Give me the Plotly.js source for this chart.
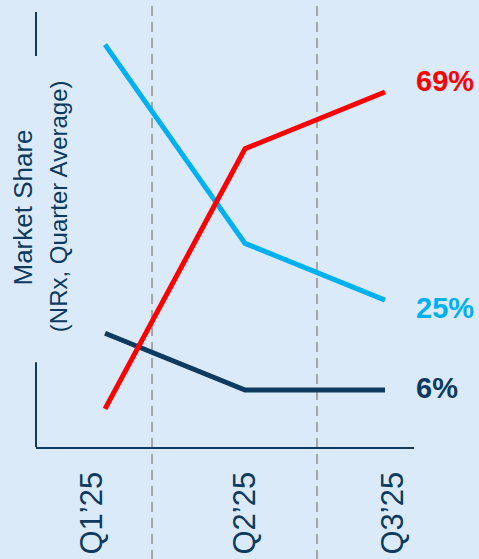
<!DOCTYPE html>
<html>
<head>
<meta charset="utf-8">
<script src="https://cdn.plot.ly/plotly-3.0.1.min.js"></script>
<style>html,body{margin:0;padding:0;background:#DAEAF8;}</style>
</head>
<body>
<div id="chart" style="width:479px;height:559px;"></div>
<script>
const quarters = ["Q1’25", "Q2’25", "Q3’25"];
const xPos = [0, 1, 2];
const redShare = [2, 57, 69];
const blueShare = [79, 37, 25];
const navyShare = [18, 6, 6];
const endLabels = ["69%", "25%", "6%"];
const dividers = [0.336, 1.514];

const BG = "#DAEAF8";
const NAVY = "#0D3A5E";
const RED = "#FF0000";
const BLUE = "#00B0F0";
const FONT = "Liberation Sans, Arial, sans-serif";

const traces = [
  {x: xPos, y: blueShare, mode: "lines", line: {color: BLUE, width: 5}, hoverinfo: "skip"},
  {x: xPos, y: navyShare, mode: "lines", line: {color: NAVY, width: 5}, hoverinfo: "skip"},
  {x: xPos, y: redShare, mode: "lines", line: {color: RED, width: 5}, hoverinfo: "skip"}
];

const shapes = dividers.map(d => ({
  type: "line", xref: "x", yref: "paper", x0: d, x1: d, y0: -0.26, y1: 1.03,
  line: {color: "#A6A6A6", width: 2, dash: "10px,6px"}, layer: "below"
}));
shapes.push({type: "line", xref: "paper", yref: "paper", x0: 0, x1: 0, y0: 0.899, y1: 1, line: {color: NAVY, width: 2}});
shapes.push({type: "line", xref: "paper", yref: "paper", x0: 0, x1: 0, y0: 0, y1: 0.195, line: {color: NAVY, width: 2}});

const labelColors = [RED, BLUE, NAVY];
const labelVals = [redShare[2], blueShare[2], navyShare[2]];
const labelShift = [11, -8, 2];
const annotations = endLabels.map((t, i) => ({
  x: 2, y: labelVals[i], xref: "x", yref: "y", text: "<b>" + t + "</b>",
  showarrow: false, xanchor: "left", yanchor: "middle", xshift: 29, yshift: labelShift[i],
  font: {family: FONT, size: 29, color: labelColors[i]}
}));
const tickShift = [-14, -1, 7];
quarters.forEach((q, i) => annotations.push({
  x: xPos[i], xref: "x", yref: "paper", y: 0, text: q, textangle: -90,
  showarrow: false, xanchor: "center", yanchor: "top", xshift: tickShift[i], yshift: -23,
  font: {family: FONT, size: 31, color: NAVY}
}));
annotations.push({
  xref: "paper", yref: "paper", x: -0.035, y: 0.55, text: "Market Share", textangle: -90,
  showarrow: false, xanchor: "center", yanchor: "middle",
  font: {family: FONT, size: 26, color: NAVY}
});
annotations.push({
  xref: "paper", yref: "paper", x: 0.06, y: 0.553, text: "(NRx, Quarter Average)", textangle: -90,
  showarrow: false, xanchor: "center", yanchor: "middle",
  font: {family: FONT, size: 24, color: NAVY}
});

const layout = {
  width: 479, height: 559,
  margin: {l: 36, r: 65, t: 12, b: 112},
  paper_bgcolor: BG, plot_bgcolor: BG,
  showlegend: false,
  xaxis: {
    range: [-0.493, 2.207], tickvals: xPos, showticklabels: false,
    showgrid: false, zeroline: false, showline: true, linecolor: NAVY, linewidth: 2,
    ticks: ""
  },
  yaxis: {
    range: [-6.05, 85.9], showgrid: false, zeroline: false, showline: false,
    showticklabels: false, ticks: ""
  },
  shapes: shapes,
  annotations: annotations
};

Plotly.newPlot("chart", traces, layout, {staticPlot: true, displayModeBar: false});
</script>
</body>
</html>
